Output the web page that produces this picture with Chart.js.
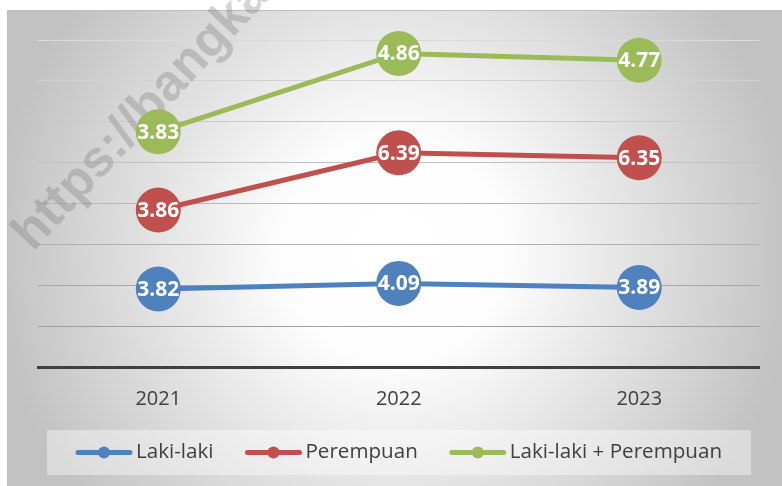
<!DOCTYPE html>
<html>
<head>
<meta charset="utf-8">
<script src="https://cdn.jsdelivr.net/npm/chart.js@4.4.0/dist/chart.umd.min.js"></script>
<style>
  html, body { margin: 0; padding: 0; background: #ffffff; }
  #wrap { width: 782px; height: 486px; position: relative; }
</style>
</head>
<body>
<div id="wrap"><canvas id="lineChart"></canvas></div>
<script>
// data (stacked lines, labels show each series' own value)
var years = ['2021', '2022', '2023'];
var lakiLaki = [3.82, 4.09, 3.89];
var perempuan = [3.86, 6.39, 6.35];
var lakiPerempuan = [3.83, 4.86, 4.77];
var seriesNames = ['Laki-laki', 'Perempuan', 'Laki-laki + Perempuan'];
var seriesColors = ['#4f81bd', '#c0504d', '#9bbb59'];
var yMin = 0, yMax = 16, yStep = 2;

var FONT = "'Open Sans', 'Noto Sans', sans-serif";

// background box with radial shading + watermark
var backgroundPlugin = {
    id: 'background',
    beforeDraw: function (chart) {
        var ctx = chart.ctx;
        var w = chart.width, h = chart.height;
        ctx.save();
        var g = ctx.createRadialGradient(394, 250, 0, 394, 250, 400);
        g.addColorStop(0, '#ffffff');
        g.addColorStop(0.28, '#fdfdfd');
        g.addColorStop(1, '#c2c2c2');
        ctx.fillStyle = g;
        ctx.fillRect(7, 10, w - 7, h - 10);
        ctx.strokeStyle = '#bdbdbd';
        ctx.lineWidth = 1;
        ctx.strokeRect(7.5, 10.5, w, h);
        ctx.restore();
    },
    beforeDatasetsDraw: function (chart) {
        var ctx = chart.ctx;
        ctx.save();
        ctx.translate(33, 252);
        ctx.rotate(-47 * Math.PI / 180);
        ctx.font = "bold 51px 'Liberation Sans', Arial, sans-serif";
        ctx.fillStyle = 'rgba(120,120,120,0.33)';
        ctx.textBaseline = 'alphabetic';
        ctx.fillText('https://bangkabaratkab.bps.go.id', 0, 0);
        ctx.restore();
    }
};

// white value labels on each marker
var valueLabels = {
    id: 'valueLabels',
    afterDatasetsDraw: function (chart) {
        var ctx = chart.ctx;
        ctx.save();
        ctx.font = 'bold 21px ' + FONT;
        ctx.fillStyle = '#ffffff';
        ctx.textAlign = 'center';
        ctx.textBaseline = 'middle';
        chart.data.datasets.forEach(function (ds, i) {
            var meta = chart.getDatasetMeta(i);
            meta.data.forEach(function (pt, j) {
                ctx.fillText(ds.data[j].toFixed(2), pt.x, pt.y + 1);
            });
        });
        ctx.restore();
    }
};

// legend drawn as line + dot, inside a light box under the axis
var lineLegend = {
    id: 'lineLegend',
    afterDraw: function (chart) {
        var ctx = chart.ctx;
        var box = { left: 47, top: 430, right: 751, bottom: 475 };
        var cy = (box.top + box.bottom) / 2;
        ctx.save();
        ctx.fillStyle = 'rgba(255,255,255,0.4)';
        ctx.fillRect(box.left, box.top, box.right - box.left, box.bottom - box.top);
        ctx.font = '20.6px ' + FONT;
        var lineLen = 56, gapText = 4, gapItem = 32;
        var widths = chart.data.datasets.map(function (ds) {
            return lineLen + gapText + ctx.measureText(ds.label).width;
        });
        var total = widths.reduce(function (a, b) { return a + b; }, 0) + gapItem * (widths.length - 1);
        var x = (box.left + box.right) / 2 - total / 2;
        chart.data.datasets.forEach(function (ds, i) {
            ctx.strokeStyle = ds.borderColor;
            ctx.lineWidth = 5;
            ctx.lineCap = 'round';
            ctx.beginPath();
            ctx.moveTo(x + 2, cy);
            ctx.lineTo(x + lineLen - 2, cy);
            ctx.stroke();
            ctx.fillStyle = ds.borderColor;
            ctx.beginPath();
            ctx.arc(x + lineLen / 2, cy, 6, 0, Math.PI * 2);
            ctx.fill();
            ctx.fillStyle = '#404040';
            ctx.textAlign = 'left';
            ctx.textBaseline = 'middle';
            ctx.fillText(ds.label, x + lineLen + gapText, cy);
            x += widths[i] + gapItem;
        });
        ctx.restore();
    }
};

function gridShade(context) {
    var v = context.tick ? context.tick.value : 0;
    var t = (v - yMin) / (yMax - yMin);
    var c = Math.round(150 + t * 68);
    return 'rgb(' + c + ',' + c + ',' + c + ')';
}

var allSeries = [lakiLaki, perempuan, lakiPerempuan];
var ctx = document.getElementById('lineChart').getContext('2d');
var chart = new Chart(ctx, {
    type: 'line',
    data: {
        labels: years,
        datasets: allSeries.map(function (values, i) {
            return {
                label: seriesNames[i],
                data: values,
                borderColor: seriesColors[i],
                backgroundColor: seriesColors[i],
                borderWidth: 5,
                pointRadius: 22.5,
                pointHoverRadius: 22.5,
                pointBorderWidth: 0,
                fill: false,
                tension: 0,
                clip: false
            };
        })
    },
    options: {
        responsive: true,
        maintainAspectRatio: false,
        animation: false,
        events: [],
        layout: { padding: { left: 38, right: 22, top: 40, bottom: 0 } },
        plugins: {
            legend: { display: false },
            tooltip: { enabled: false }
        },
        scales: {
            x: {
                offset: true,
                grid: { display: false, drawTicks: false },
                border: { display: true, color: '#404040', width: 3 },
                ticks: {
                    color: '#404040',
                    font: { family: FONT, size: 20 },
                    padding: 20
                },
                afterFit: function (scale) { scale.height = 119; }
            },
            y: {
                stacked: true,
                min: yMin,
                max: yMax,
                ticks: { display: false, stepSize: yStep },
                grid: { color: gridShade, lineWidth: 1, drawTicks: false },
                border: { display: false },
                afterFit: function (scale) { scale.width = 0; }
            }
        }
    },
    plugins: [backgroundPlugin, valueLabels, lineLegend]
});
</script>
</body>
</html>
